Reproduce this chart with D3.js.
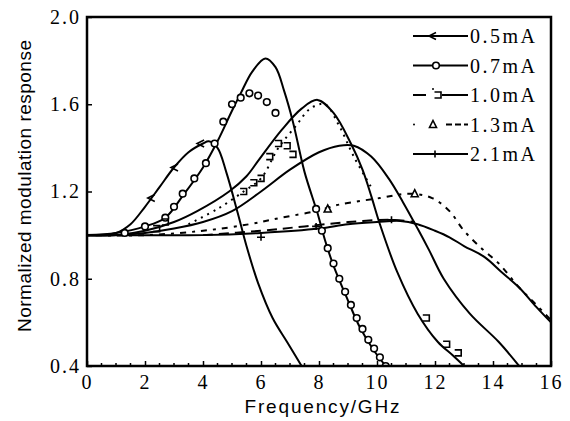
<!DOCTYPE html>
<html>
<head>
<meta charset="utf-8">
<script src="https://cdn.jsdelivr.net/npm/d3@7"></script>
<style>
  body { margin: 0; background: #fff; }
  svg { display: block; }
</style>
</head>
<body>
<svg id="chart" width="570" height="421"></svg>
<script>
// fitted curves (solid)
const f05 = [0, 1, 1.5, 2, 2.5, 3, 3.5, 4, 4.2, 4.5, 4.8, 5.2, 5.5, 5.9, 6.4, 6.9, 7.4]
const r05 = [1.0, 1.01, 1.05, 1.13, 1.22, 1.31, 1.38, 1.42, 1.43, 1.40, 1.29, 1.10, 0.95, 0.78, 0.62, 0.51, 0.40]
const f07 = [0, 1, 2, 2.7, 3.3, 4, 4.5, 5, 5.3, 5.7, 6.15, 6.5, 6.8, 7.1, 7.5, 7.95, 8.2, 8.5, 9.0, 9.4, 9.9, 10.3]
const r07 = [1.0, 1.01, 1.04, 1.08, 1.18, 1.31, 1.43, 1.57, 1.65, 1.75, 1.81, 1.77, 1.66, 1.52, 1.29, 1.10, 0.98, 0.86, 0.70, 0.58, 0.47, 0.40]
const f10 = [0, 1, 2, 3, 3.8, 4.9, 5.5, 5.9, 6.7, 7.4, 7.95, 8.5, 9.1, 9.5, 9.8, 10.1, 10.7, 11.4, 12.1, 12.6, 13.0]
const r10 = [1.0, 1.0, 1.02, 1.06, 1.11, 1.20, 1.27, 1.34, 1.48, 1.58, 1.62, 1.56, 1.42, 1.30, 1.18, 1.05, 0.83, 0.64, 0.51, 0.45, 0.40]
const f13 = [0, 1, 2, 3, 4, 5, 6, 7, 8, 8.7, 9.2, 9.8, 10.4, 10.9, 11.4, 11.8, 12.3, 13.2, 14.2, 14.9]
const r13 = [1.0, 1.0, 1.01, 1.03, 1.06, 1.11, 1.20, 1.30, 1.38, 1.41, 1.41, 1.36, 1.26, 1.15, 1.03, 0.93, 0.80, 0.64, 0.51, 0.40]
const f21 = [0, 2, 4, 6, 8, 9, 10, 10.8, 11.4, 12, 12.5, 13, 13.7, 14.3, 14.9, 15.5, 16]
const r21 = [1.0, 1.0, 1.0, 1.01, 1.03, 1.05, 1.06, 1.065, 1.05, 1.02, 0.99, 0.95, 0.90, 0.83, 0.76, 0.67, 0.60]

// measured points
const f05pts = [2.2, 3.0, 3.9]
const r05pts = [1.17, 1.31, 1.42]
const f07pts = [1.3, 2.0, 2.7, 3.0, 3.3, 3.7, 4.1, 4.4, 4.7, 5.0, 5.3, 5.6, 5.9, 6.2, 6.5, 7.9, 8.1, 8.3, 8.5, 8.7, 8.9, 9.1, 9.3, 9.5, 9.7, 9.9, 10.1, 10.3]
const r07pts = [1.01, 1.04, 1.08, 1.13, 1.19, 1.26, 1.33, 1.42, 1.52, 1.60, 1.63, 1.65, 1.64, 1.61, 1.56, 1.12, 1.02, 0.94, 0.87, 0.80, 0.74, 0.68, 0.62, 0.57, 0.52, 0.48, 0.44, 0.40]
const f10pts = [2.4, 2.7, 5.4, 5.75, 6.0, 6.3, 6.6, 6.9, 7.1, 11.7, 12.4, 12.8]
const r10pts = [1.03, 1.06, 1.20, 1.24, 1.26, 1.36, 1.42, 1.41, 1.37, 0.62, 0.50, 0.46]
const f10dot = [3.5, 4.5, 5.4, 6.0, 6.6, 7.2, 7.7, 8.2, 8.7, 9.2, 9.8]
const r10dot = [1.05, 1.12, 1.20, 1.26, 1.40, 1.50, 1.58, 1.60, 1.50, 1.36, 1.22]
const f13dat = [0, 2, 4, 5.6, 6.7, 7.9, 8.7, 10.1, 11.1, 11.9, 12.5, 13.0, 13.6, 14.2, 14.9, 15.5, 16]
const r13dat = [1.0, 1.0, 1.02, 1.05, 1.08, 1.11, 1.14, 1.17, 1.19, 1.17, 1.11, 1.02, 0.94, 0.87, 0.76, 0.68, 0.61]
const f13pts = [8.3, 11.3]
const r13pts = [1.12, 1.19]
const f21dat = [4, 6, 7.5, 9, 10.5, 11.3]
const r21dat = [1.0, 1.02, 1.04, 1.06, 1.07, 1.06]
const f21pts = [6.0, 7.9, 10.5]
const r21pts = [0.99, 1.04, 1.07]

const legendLabels = ['0.5mA', '0.7mA', '1.0mA', '1.3mA', '2.1mA']
const xTicks = [0, 2, 4, 6, 8, 10, 12, 14, 16]
const yTicks = [0.4, 0.8, 1.2, 1.6, 2.0]

const svg = d3.select('#chart')
const x = d3.scaleLinear().domain([0, 16]).range([87, 551])
const y = d3.scaleLinear().domain([0.4, 2.0]).range([366, 17])
const zip = (fs, rs) => fs.map((f, i) => [f, rs[i]])

svg.append('defs').append('clipPath').attr('id', 'plot-clip')
  .append('rect').attr('x', 87).attr('y', 17).attr('width', 464).attr('height', 349)

// 坐标轴
const xAxis = svg.append('g').attr('transform', 'translate(0,366)')
  .call(d3.axisBottom(x).tickValues(xTicks).tickSizeInner(-5).tickSizeOuter(0).tickPadding(9).tickFormat(d3.format('d')))
const yAxis = svg.append('g').attr('transform', 'translate(87,0)')
  .call(d3.axisLeft(y).tickValues(yTicks).tickSizeInner(-5).tickSizeOuter(0).tickPadding(6).tickFormat(d3.format('.1f')))
;[xAxis, yAxis].forEach(a => {
  a.select('.domain').remove()
  a.selectAll('line').attr('stroke', '#000').attr('stroke-width', 1.5)
  a.selectAll('text').attr('font-family', 'Liberation Serif').attr('font-size', 20)
    .attr('letter-spacing', 2).attr('fill', '#000')
})

// minor ticks
svg.append('g').selectAll('line').data(d3.range(0.5, 16, 0.5).filter(d => d % 2 !== 0)).join('line')
  .attr('x1', d => x(d)).attr('x2', d => x(d)).attr('y1', 366).attr('y2', 363)
  .attr('stroke', '#000').attr('stroke-width', 1.5)

const plot = svg.append('g').attr('clip-path', 'url(#plot-clip)')
const line = d3.line().x(d => x(d[0])).y(d => y(d[1])).curve(d3.curveCatmullRom.alpha(0.5))

// dotted / dashed measured traces
plot.append('path').datum(zip(f10dot, r10dot)).attr('d', line)
  .attr('fill', 'none').attr('stroke', '#000').attr('stroke-width', 2).attr('stroke-dasharray', '2,5')
plot.append('path').datum(zip(f13dat, r13dat)).attr('d', line)
  .attr('fill', 'none').attr('stroke', '#000').attr('stroke-width', 2).attr('stroke-dasharray', '3,6,6,6')
plot.append('path').datum(zip(f21dat, r21dat)).attr('d', line)
  .attr('fill', 'none').attr('stroke', '#000').attr('stroke-width', 2).attr('stroke-dasharray', '10,6')

// solid fitted curves
;[[f05, r05], [f07, r07], [f10, r10], [f13, r13], [f21, r21]].forEach(([fs, rs]) => {
  plot.append('path').datum(zip(fs, rs)).attr('d', line)
    .attr('fill', 'none').attr('stroke', '#000').attr('stroke-width', 2)
})

// marker shapes
const markerPath = {
  arrow: 'M4,-3.5 L-3,0 L4,3.5',
  bracket: 'M-3.5,-3 H3 V3 H-3.5',
  tri: 'M0,-4 L3.5,3 H-3.5 Z',
  plus: 'M-4,0 H4 M0,-3.5 V3.5',
}
function drawMarks(g, pts, kind) {
  if (kind === 'circle') {
    g.selectAll(null).data(pts).join('circle')
      .attr('cx', d => x(d[0])).attr('cy', d => y(d[1])).attr('r', 3.3)
      .attr('fill', '#fff').attr('stroke', '#000').attr('stroke-width', 1.6)
  } else {
    g.selectAll(null).data(pts).join('path')
      .attr('transform', d => `translate(${x(d[0])},${y(d[1])})`)
      .attr('d', markerPath[kind])
      .attr('fill', kind === 'tri' ? '#fff' : 'none').attr('stroke', '#000').attr('stroke-width', 1.6)
  }
}
drawMarks(plot.append('g'), zip(f05pts, r05pts), 'arrow')
drawMarks(plot.append('g'), zip(f07pts, r07pts), 'circle')
drawMarks(plot.append('g'), zip(f10pts, r10pts), 'bracket')
drawMarks(plot.append('g'), zip(f13pts, r13pts), 'tri')
drawMarks(plot.append('g'), zip(f21pts, r21pts), 'plus')

// 边框
svg.append('rect').attr('x', 87).attr('y', 17).attr('width', 464).attr('height', 349)
  .attr('fill', 'none').attr('stroke', '#000').attr('stroke-width', 2.5)

// 图例
const kinds = ['arrow', 'circle', 'bracket', 'tri', 'plus']
const legend = svg.append('g')
legendLabels.forEach((lab, i) => {
  const ly = 36 + i * 29.5
  const g = legend.append('g')
  if (i === 3) {
    g.append('circle').attr('cx', 414).attr('cy', ly).attr('r', 1).attr('fill', '#000')
    g.append('line').attr('x1', 446).attr('x2', 468).attr('y1', ly).attr('y2', ly)
      .attr('stroke', '#000').attr('stroke-width', 2).attr('stroke-dasharray', '6,3')
  } else if (i === 2) {
    g.append('line').attr('x1', 413).attr('x2', 426).attr('y1', ly).attr('y2', ly)
      .attr('stroke', '#000').attr('stroke-width', 2)
    g.append('line').attr('x1', 442).attr('x2', 468).attr('y1', ly).attr('y2', ly)
      .attr('stroke', '#000').attr('stroke-width', 2)
    g.append('circle').attr('cx', 433).attr('cy', ly - 6).attr('r', 1).attr('fill', '#000')
  } else {
    g.append('line').attr('x1', 413).attr('x2', 468).attr('y1', ly).attr('y2', ly)
      .attr('stroke', '#000').attr('stroke-width', 2)
  }
  const mx = [432, 436, 438, 433, 435][i]
  drawMarks(g, [[x.invert(mx), y.invert(ly)]], kinds[i])
  g.append('text').attr('x', 470).attr('y', ly + 7).text(lab)
    .attr('font-family', 'Liberation Serif').attr('font-size', 20).attr('letter-spacing', 2.5)
})

// 轴标题
svg.append('text').attr('x', 322).attr('y', 413).attr('text-anchor', 'middle')
  .attr('font-family', 'Liberation Sans').attr('font-size', 19)
  .attr('textLength', 155).attr('lengthAdjust', 'spacing').text('Frequency/GHz')
svg.append('text').attr('transform', 'translate(31,186) rotate(-90)').attr('text-anchor', 'middle')
  .attr('font-family', 'Liberation Sans').attr('font-size', 19)
  .attr('textLength', 292).attr('lengthAdjust', 'spacing').text('Normalized modulation response')
</script>
</body>
</html>
